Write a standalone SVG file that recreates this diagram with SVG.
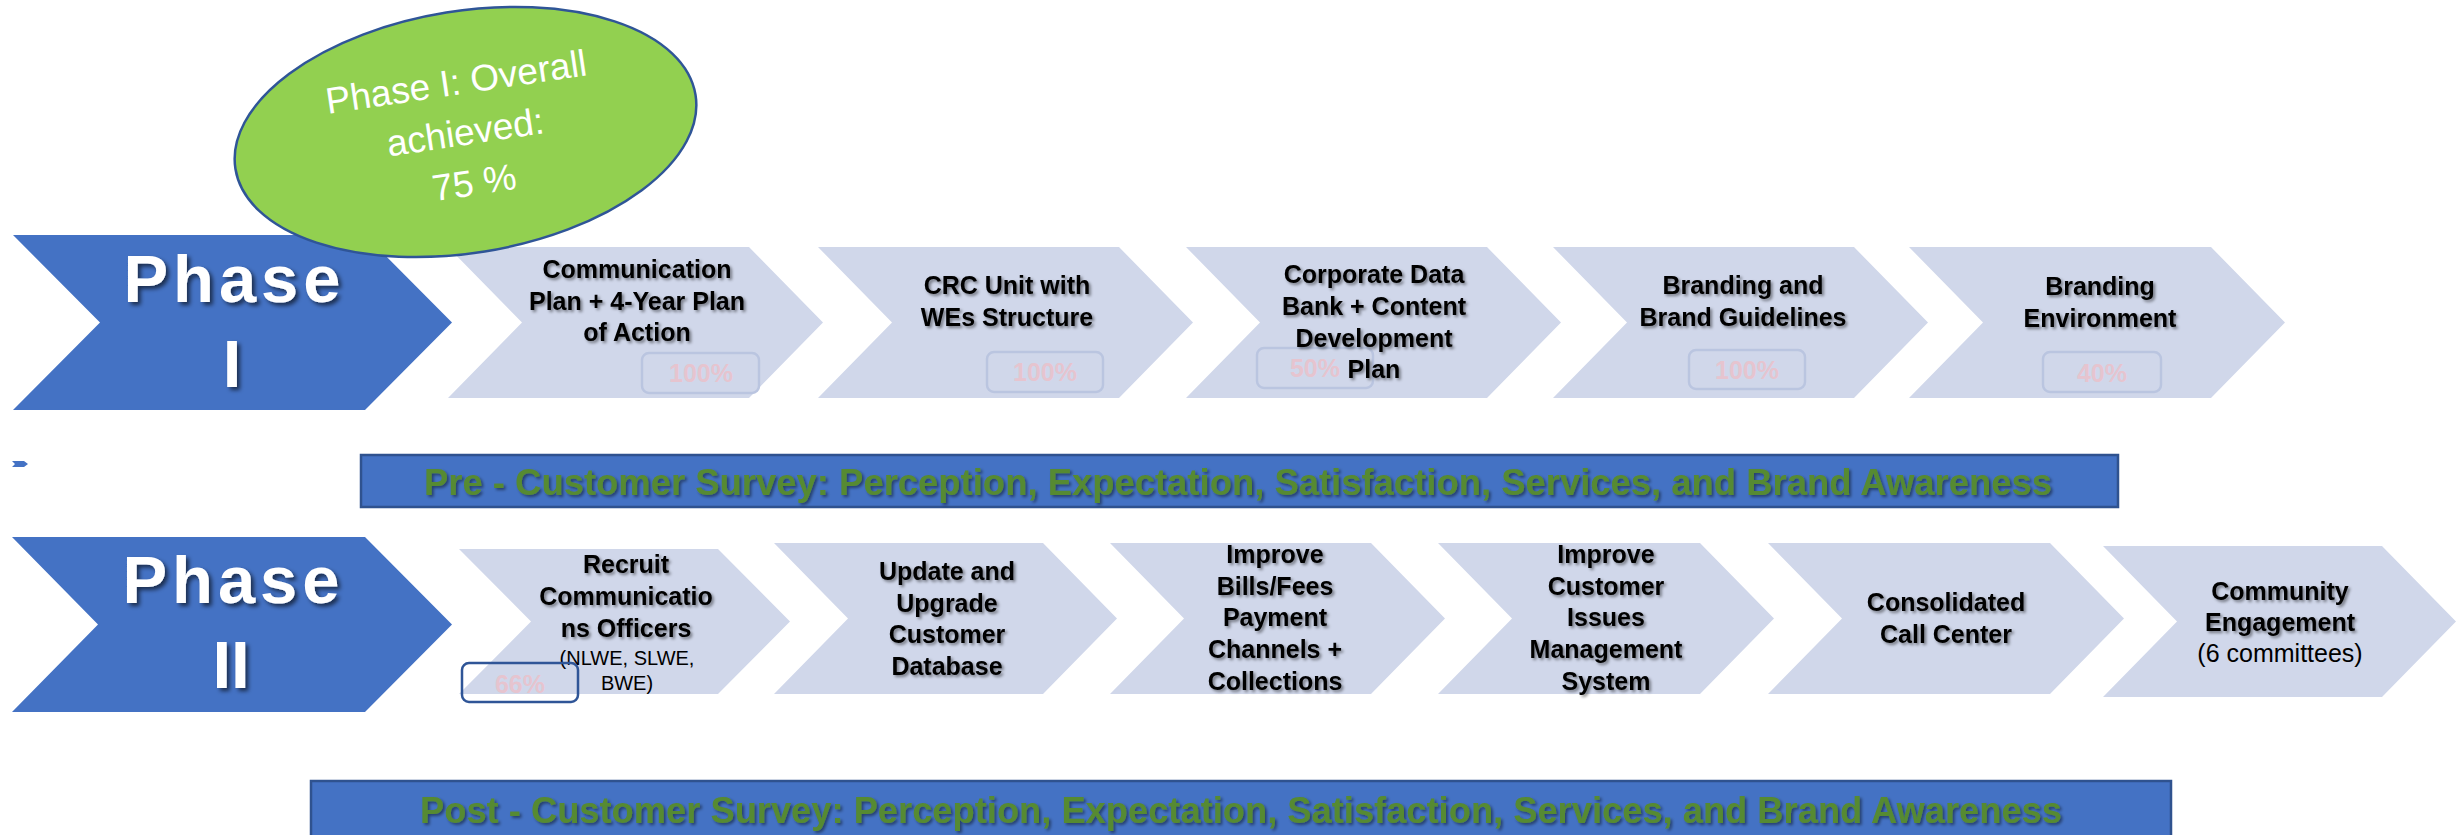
<svg xmlns="http://www.w3.org/2000/svg" width="2463" height="835" viewBox="0 0 2463 835">
<defs>
<filter id="sh" x="-10%" y="-30%" width="130%" height="170%">
<feDropShadow dx="2" dy="2" stdDeviation="1.5" flood-color="#000" flood-opacity="0.45"/>
</filter>
<filter id="shw" x="-10%" y="-30%" width="130%" height="170%">
<feDropShadow dx="3" dy="3" stdDeviation="2" flood-color="#000" flood-opacity="0.6"/>
</filter>
</defs>
<style>
.big{fill:#4472C4}
.step{fill:#D0D7EA}
.ph{font-family:"Liberation Sans",Arial,sans-serif;font-weight:bold;font-size:67px;fill:#fff;text-anchor:middle;filter:url(#shw)}
.t{font-family:"Liberation Sans",Arial,sans-serif;font-weight:bold;font-size:25px;fill:#000;text-anchor:middle;filter:url(#sh)}
.r{font-family:"Liberation Sans",Arial,sans-serif;font-size:20px;fill:#000;text-anchor:middle}
.badge{fill:none;stroke:#BAC5E0;stroke-width:2.5}
.bt{font-family:"Liberation Sans",Arial,sans-serif;font-weight:bold;font-size:25px;fill:#E6C4CF;text-anchor:middle}
.banner{fill:#4472C4;stroke:#2F528F;stroke-width:2.5}
.sv{font-family:"Liberation Sans",Arial,sans-serif;font-weight:bold;font-size:36px;fill:#578A30;text-anchor:middle;filter:url(#sh)}
.el{font-family:"Liberation Sans",Arial,sans-serif;font-size:37px;fill:#fff;text-anchor:middle}
</style>

<g id="phase1">
<polygon class="big" points="13,235 365,235 452,322.5 365,410 13,410 100,322.5"/>
<text class="ph" x="232" y="302" textLength="217" lengthAdjust="spacing">Phase</text>
<text class="ph" x="232" y="387">I</text>
</g>

<g id="p1-step1">
<polygon class="step" points="448,247 749,247 823,322.5 749,398 448,398 522,322.5"/>
<text class="t" x="637" y="278">Communication</text>
<text class="t" x="637" y="310">Plan + 4-Year Plan</text>
<text class="t" x="637" y="341">of Action</text>
<rect class="badge" x="642" y="353" width="117" height="40" rx="7"/>
<text class="bt" x="701" y="382">100%</text>
</g>

<g id="p1-step2">
<polygon class="step" points="818,247 1119,247 1193,322.5 1119,398 818,398 892,322.5"/>
<text class="t" x="1007" y="294">CRC Unit with</text>
<text class="t" x="1007" y="326">WEs Structure</text>
<rect class="badge" x="987" y="352" width="116" height="40" rx="7"/>
<text class="bt" x="1045" y="381">100%</text>
</g>

<g id="p1-step3">
<polygon class="step" points="1186,247 1487,247 1561,322.5 1487,398 1186,398 1260,322.5"/>
<rect class="badge" x="1257" y="348" width="116" height="40" rx="7"/>
<text class="bt" x="1315" y="377">50%</text>
<text class="t" x="1374" y="283">Corporate Data</text>
<text class="t" x="1374" y="315">Bank + Content</text>
<text class="t" x="1374" y="347">Development</text>
<text class="t" x="1374" y="378">Plan</text>
</g>

<g id="p1-step4">
<polygon class="step" points="1553,247 1854,247 1928,322.5 1854,398 1553,398 1627,322.5"/>
<text class="t" x="1743" y="294">Branding and</text>
<text class="t" x="1743" y="326">Brand Guidelines</text>
<rect class="badge" x="1689" y="350" width="116" height="39" rx="7"/>
<text class="bt" x="1747" y="379">100%</text>
</g>

<g id="p1-step5">
<polygon class="step" points="1909,247 2211,247 2285,322.5 2211,398 1909,398 1983,322.5"/>
<text class="t" x="2100" y="295">Branding</text>
<text class="t" x="2100" y="327">Environment</text>
<rect class="badge" x="2043" y="352" width="118" height="40" rx="7"/>
<text class="bt" x="2102" y="382">40%</text>
</g>

<g id="overall">
<ellipse cx="465.5" cy="132" rx="233" ry="121" transform="rotate(-9.15 465.5 132)" fill="#92D050" stroke="#2F5597" stroke-width="2.5"/>
<g transform="translate(458 94.5) rotate(-8.5)">
<text class="el" x="0" y="0">Phase I: Overall</text>
<text class="el" x="1.5" y="51">achieved:</text>
<text class="el" x="3" y="102">75 %</text>
</g>
</g>

<g id="marker">
<polygon points="12,461 24,461 28,464 24,467 12,467 15,464" fill="#4472C4"/>
</g>

<g id="pre-survey">
<rect class="banner" x="361" y="455" width="1757" height="52"/>
<text class="sv" x="1238" y="495" textLength="1628" lengthAdjust="spacingAndGlyphs">Pre - Customer Survey: Perception, Expectation, Satisfaction, Services, and Brand Awareness</text>
</g>

<g id="phase2">
<polygon class="big" points="12,537 365,537 452,624.5 365,712 12,712 98,624.5"/>
<text class="ph" x="231" y="603" textLength="217" lengthAdjust="spacing">Phase</text>
<text class="ph" x="231" y="688">II</text>
</g>

<g id="p2-step1">
<polygon class="step" points="459,549 718,549 790,621.5 718,694 459,694 531,621.5"/>
<text class="t" x="626" y="573">Recruit</text>
<text class="t" x="626" y="605">Communicatio</text>
<text class="t" x="626" y="637">ns Officers</text>
<text class="r" x="627" y="665">(NLWE, SLWE,</text>
<text class="r" x="627" y="690">BWE)</text>
<rect x="462" y="663" width="116" height="39" rx="7" fill="none" stroke="#2F5597" stroke-width="2.5"/>
<text class="bt" x="520" y="693">66%</text>
</g>

<g id="p2-step2">
<polygon class="step" points="774,543 1043,543 1117,618.5 1043,694 774,694 848,618.5"/>
<text class="t" x="947" y="580">Update and</text>
<text class="t" x="947" y="612">Upgrade</text>
<text class="t" x="947" y="643">Customer</text>
<text class="t" x="947" y="675">Database</text>
</g>

<g id="p2-step3">
<polygon class="step" points="1110,543 1371,543 1445,618.5 1371,694 1110,694 1184,618.5"/>
<text class="t" x="1275" y="563">Improve</text>
<text class="t" x="1275" y="595">Bills/Fees</text>
<text class="t" x="1275" y="626">Payment</text>
<text class="t" x="1275" y="658">Channels +</text>
<text class="t" x="1275" y="690">Collections</text>
</g>

<g id="p2-step4">
<polygon class="step" points="1438,543 1700,543 1774,618.5 1700,694 1438,694 1512,618.5"/>
<text class="t" x="1606" y="563">Improve</text>
<text class="t" x="1606" y="595">Customer</text>
<text class="t" x="1606" y="626">Issues</text>
<text class="t" x="1606" y="658">Management</text>
<text class="t" x="1606" y="690">System</text>
</g>

<g id="p2-step5">
<polygon class="step" points="1768,543 2050,543 2124,618.5 2050,694 1768,694 1842,618.5"/>
<text class="t" x="1946" y="611">Consolidated</text>
<text class="t" x="1946" y="643">Call Center</text>
</g>

<g id="p2-step6">
<polygon class="step" points="2103,546 2382,546 2456,621.5 2382,697 2103,697 2177,621.5"/>
<text class="t" x="2280" y="600">Community</text>
<text class="t" x="2280" y="631">Engagement</text>
<text class="r" x="2280" y="662" style="font-size:25px">(6 committees)</text>
</g>

<g id="post-survey">
<rect class="banner" x="311" y="781" width="1860" height="70"/>
<text class="sv" x="1241" y="823" textLength="1642" lengthAdjust="spacingAndGlyphs">Post - Customer Survey: Perception, Expectation, Satisfaction, Services, and Brand Awareness</text>
</g>

<g id="connectors"/>
</svg>
